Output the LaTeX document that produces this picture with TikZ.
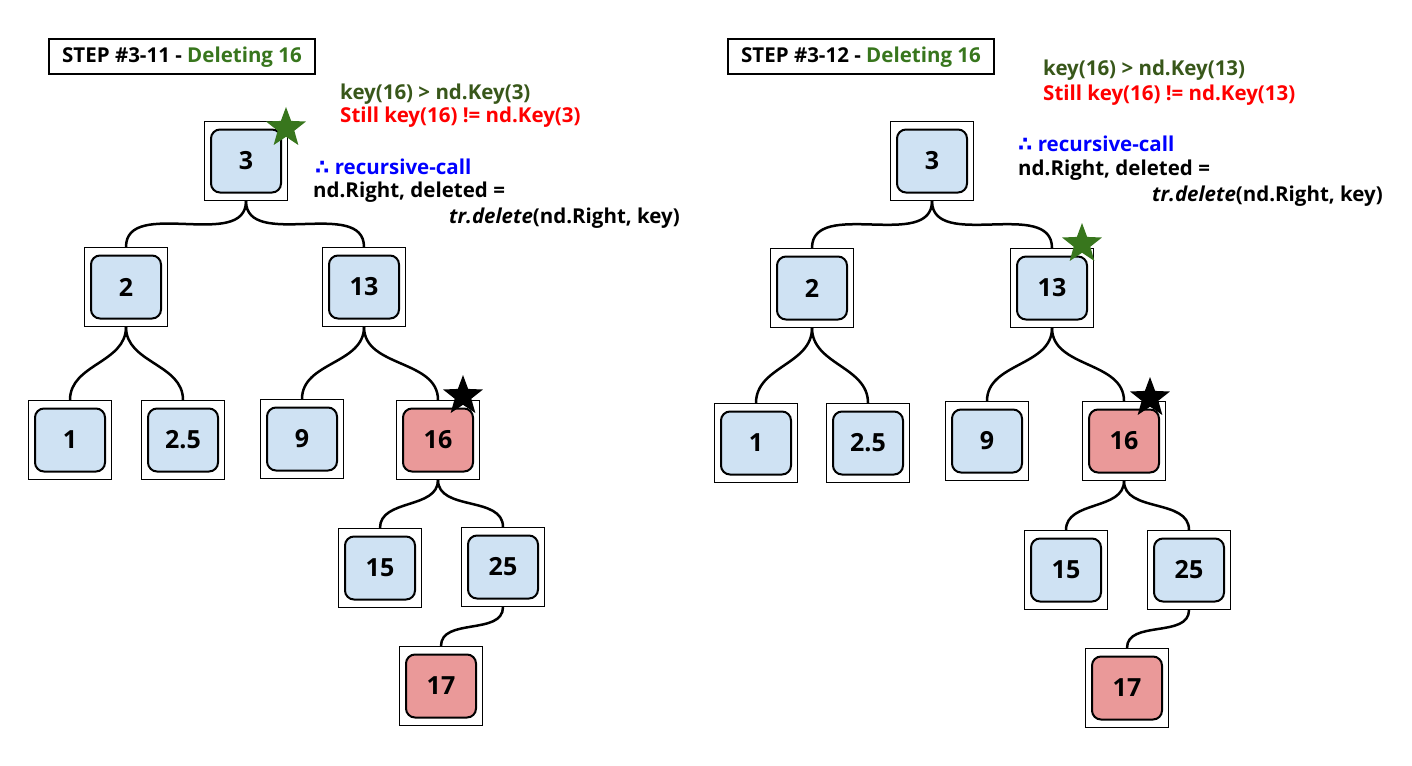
\documentclass[tikz,border=0pt]{standalone}
\usepackage{fontspec}
\setmainfont{Open Sans}
\newfontfamily\symfont{DejaVu Sans}
\usetikzlibrary{shapes.geometric}
\definecolor{keyblue}{HTML}{CFE2F3}
\definecolor{keypink}{HTML}{EA9999}
\definecolor{stepgreen}{HTML}{38761D}
\definecolor{cmpgreen}{HTML}{38571A}
\definecolor{callblue}{HTML}{0000FF}
\definecolor{stillred}{HTML}{FF0000}
\tikzset{
  cell/.style={draw, line width=1pt, fill=white, minimum width=83, minimum height=79, inner sep=0},
  keybox/.style={draw, line width=2pt, rounded corners=9pt, fill=keyblue, minimum width=70, minimum height=63, inner sep=0, font=\bfseries\fontsize{25}{30}\selectfont},
  delbox/.style={keybox, fill=keypink},
  link/.style={line width=2.5pt},
  curstar/.style={star, star points=5, star point ratio=2.4, minimum size=42, inner sep=0},
  txt/.style={anchor=west, inner sep=0, font=\bfseries\fontsize{20.5}{24}\selectfont},
  stepbox/.style={draw, line width=2pt, minimum width=266, minimum height=35, inner sep=0, font=\bfseries\fontsize{20.5}{24}\selectfont}
}
% outer square + rounded key box
\newcommand\bstnode[4]{\node[cell] (#1) at (#2) {}; \node[#3] (#1k) at (#1) {#4};}
\begin{document}
\begin{tikzpicture}[x=1pt, y=-1pt]
\useasboundingbox (0,0) rectangle (1412,765);

% step 3-11
\node[stepbox] (t1) at (182,57) {STEP \#3-11 - \textcolor{stepgreen}{Deleting 16}};
\bstnode{a3}{246,161}{keybox}{3}
\bstnode{a2}{126,287}{keybox}{2}
\bstnode{a13}{364,287}{keybox}{13}
\bstnode{a1}{70,440}{keybox}{1}
\bstnode{a2p5}{183,440}{keybox}{2.5}
\bstnode{a9}{302,439}{keybox}{9}
\bstnode{a16}{438,440}{delbox}{16}
\bstnode{a15}{380,568}{keybox}{15}
\bstnode{a25}{503,567}{keybox}{25}
\bstnode{a17}{441,686}{delbox}{17}
\node[curstar, fill=stepgreen] (sa1) at (286,128) {};
\node[curstar, fill=black] (sa2) at (463,396) {};
\node[txt, text=cmpgreen] (ca1) at (340,94) {key(16) > nd.Key(3)};
\node[txt, text=stillred] (ca2) at (340,117) {Still key(16) != nd.Key(3)};
\node[txt, text=callblue] (ca3) at (315,167) {{\symfont ∴} recursive-call};
\node[txt] (ca4) at (313,192) {nd.Right, deleted =};
\node[txt, anchor=east] (ca5) at (680,218) {\textit{tr.delete}(nd.Right, key)};

% step 3-12
\node[stepbox] (t2) at (861,57) {STEP \#3-12 - \textcolor{stepgreen}{Deleting 16}};
\bstnode{b3}{932,161}{keybox}{3}
\bstnode{b2}{812,288}{keybox}{2}
\bstnode{b13}{1052,288}{keybox}{13}
\bstnode{b1}{756,443}{keybox}{1}
\bstnode{b2p5}{868,443}{keybox}{2.5}
\bstnode{b9}{987,441}{keybox}{9}
\bstnode{b16}{1124,441}{delbox}{16}
\bstnode{b15}{1066,570}{keybox}{15}
\bstnode{b25}{1189,570}{keybox}{25}
\bstnode{b17}{1127,688}{delbox}{17}
\node[curstar, fill=stepgreen] (sb1) at (1082,244) {};
\node[curstar, fill=black] (sb2) at (1150,398) {};
\node[txt, text=cmpgreen] (cb1) at (1043,70) {key(16) > nd.Key(13)};
\node[txt, text=stillred] (cb2) at (1043,95) {Still key(16) != nd.Key(13)};
\node[txt, text=callblue] (cb3) at (1018,144) {{\symfont ∴} recursive-call};
\node[txt] (cb4) at (1018,170) {nd.Right, deleted =};
\node[txt, anchor=east] (cb5) at (1383,196) {\textit{tr.delete}(nd.Right, key)};

\foreach \t in {a,b}
  \foreach \p/\c in {3/2, 3/13, 2/1, 2/2p5, 13/9, 13/16, 16/15, 16/25, 25/17}
    \draw[link] (\t\p.south) to[out=-90, in=90] (\t\c.north);
\end{tikzpicture}
\end{document}
